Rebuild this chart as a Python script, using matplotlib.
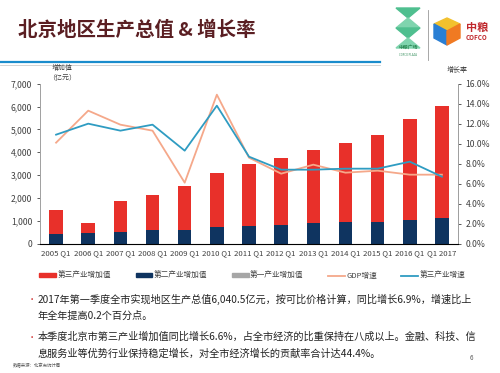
import matplotlib
matplotlib.use("Agg")
import matplotlib.pyplot as plt
import numpy as np
from matplotlib.patches import Polygon, Rectangle
from matplotlib.lines import Line2D

plt.rcParams['font.family'] = ['Noto Sans CJK SC', 'DejaVu Sans']

# data
quarters = ["2005 Q1", "2006 Q1", "2007 Q1", "2008 Q1", "2009 Q1", "2010 Q1", "2011 Q1",
            "2012 Q1", "2013 Q1", "2014 Q1", "2015 Q1", "2016 Q1", "Q1 2017"]
second_ind = [411, 455, 512, 586, 586, 717, 787, 831, 892, 936, 949, 1023, 1111]
third_ind = [1050, 437, 1356, 1558, 1925, 2389, 2713, 2931, 3207, 3482, 3819, 4432, 4930]
gdp_growth = [10.1, 13.3, 11.9, 11.3, 6.1, 14.9, 8.6, 7.0, 7.9, 7.1, 7.3, 6.9, 6.9]
third_growth = [10.9, 12.0, 11.3, 11.9, 9.3, 13.8, 8.7, 7.4, 7.4, 7.5, 7.5, 8.2, 6.7]

RED = "#e8302a"
NAVY = "#0f3460"
GREY = "#a6a6a6"
ORANGE = "#f5a88a"
BLUE = "#2f9cc2"
TXT = "#404040"

fig = plt.figure(figsize=(5, 3.73), dpi=100)

# title and header
fig.text(0.036, 0.918, "北京地区生产总值 & 增长率", fontsize=14, fontweight="bold",
         color="#5a1e22", va="center")
fig.add_artist(Line2D([0, 0.76], [0.834, 0.834], color="#1a8ccc", lw=1.6))
fig.add_artist(Line2D([0, 0.76], [0.826, 0.826], color="#cccccc", lw=0.6))

# logo approximation
W, H = 500.0, 373.0
def px(x, y):
    return (x / W, 1 - y / H)
for y0 in (8, 28):
    fig.add_artist(Polygon([px(396, y0), px(420, y0), px(408, y0 + 10)], closed=True,
                           transform=fig.transFigure, color="#4fbf8f"))
    fig.add_artist(Polygon([px(396, y0 + 20), px(420, y0 + 20), px(408, y0 + 10)], closed=True,
                           transform=fig.transFigure, color="#7fd4ae"))
fig.text(408 / W, 1 - 47 / H, "中粮广场", fontsize=3.5, color="#2e8b57", ha="center", va="center",
         fontweight="bold")
fig.text(408 / W, 1 - 55 / H, "COFCO PLAZA", fontsize=2, color="#2e8b57", ha="center", va="center")
fig.add_artist(Line2D([428 / W, 428 / W], [1 - 10 / H, 1 - 60 / H], color="#999999", lw=0.6))
fig.add_artist(Polygon([px(447, 18), px(460, 24), px(447, 31), px(434, 24)], closed=True,
                       transform=fig.transFigure, color="#f2c12e"))
fig.add_artist(Polygon([px(434, 24), px(447, 31), px(447, 45), px(434, 38)], closed=True,
                       transform=fig.transFigure, color="#2a7fd4"))
fig.add_artist(Polygon([px(447, 31), px(460, 24), px(460, 38), px(447, 45)], closed=True,
                       transform=fig.transFigure, color="#f07a22"))
fig.text(477 / W, 1 - 27 / H, "中粮", fontsize=8, color="#c0282d", ha="center", va="center",
         fontweight="bold")
fig.text(477 / W, 1 - 38 / H, "COFCO", fontsize=4.5, color="#c0282d", ha="center", va="center",
         fontweight="bold")

# main chart
ax = fig.add_axes([0.08, 0.3467, 0.836, 0.429])
x = np.arange(len(quarters))
bw = 0.42
ax.bar(x, second_ind, bw, color=NAVY, zorder=2)
ax.bar(x, third_ind, bw, bottom=second_ind, color=RED, zorder=2)
ax.set_ylim(0, 7000)
ax.set_xlim(-0.5, len(quarters) - 0.5)
ax.set_yticks(range(0, 7001, 1000))
ax.set_yticklabels(["{:,}".format(v) for v in range(0, 7001, 1000)])
ax.set_xticks(x)
ax.set_xticklabels(quarters)
ax.tick_params(labelsize=6.2, colors=TXT, length=2, width=0.6)
ax.tick_params(axis="x", labelsize=5.6, length=0, pad=4)
ax.spines["top"].set_visible(False)
for s in ("left", "bottom", "right"):
    ax.spines[s].set_color("#a0a0a0")
    ax.spines[s].set_linewidth(0.7)

ax2 = ax.twinx()
ax2.plot(x, gdp_growth, color=ORANGE, lw=1.3, zorder=3)
ax2.plot(x, third_growth, color=BLUE, lw=1.3, zorder=3)
ax2.set_ylim(0, 16)
ax2.set_yticks(np.arange(0, 16.1, 2))
ax2.set_yticklabels(["{:.1f}%".format(v) for v in np.arange(0, 16.1, 2)])
ax2.tick_params(labelsize=6.2, colors=TXT, length=2, width=0.6)
ax2.spines["top"].set_visible(False)
ax2.spines["right"].set_color("#a0a0a0")
ax2.spines["right"].set_linewidth(0.7)
ax2.spines["left"].set_visible(False)

fig.text(62 / W, 1 - 73 / H, "增加值\n（亿元）", fontsize=5, color=TXT, ha="center", va="center",
         linespacing=1.2)
fig.text(457 / W, 1 - 70 / H, "增长率", fontsize=5, color=TXT, ha="center", va="center")

# legend
handles = [Rectangle((0, 0), 1, 1, color=RED), Rectangle((0, 0), 1, 1, color=NAVY),
           Rectangle((0, 0), 1, 1, color=GREY), Line2D([], [], color=ORANGE, lw=1.3),
           Line2D([], [], color=BLUE, lw=1.3)]
labels = ["第三产业增加值", "第二产业增加值", "第一产业增加值", "GDP增速", "第三产业增速"]
fig.legend(handles, labels, loc="center", bbox_to_anchor=(0.505, 1 - 276 / H), ncol=5,
           frameon=False, fontsize=5.5, handlelength=2.2, handleheight=0.5,
           columnspacing=3.2, handletextpad=0.2, labelcolor=TXT)

# bullet text
bullets = [
    ("2017年第一季度全市实现地区生产总值6,040.5亿元，按可比价格计算，同比增长6.9%，增速比上", 299),
    ("年全年提高0.2个百分点。", 316),
    ("本季度北京市第三产业增加值同比增长6.6%，占全市经济的比重保持在八成以上。金融、科技、信", 337),
    ("息服务业等优势行业保持稳定增长，对全市经济增长的贡献率合计达44.4%。", 354),
]
for t, yy in bullets:
    fig.text(38 / W, 1 - yy / H, t, fontsize=7.3, color="#222222", va="center")
for yy in (299, 337):
    fig.text(28 / W, 1 - yy / H, "•", fontsize=6, color="#d03030", va="center")

fig.text(13 / W, 1 - 366 / H, "数据来源：北京市统计局", fontsize=3.2, color="#555555", va="center")
fig.text(470 / W, 1 - 358 / H, "6", fontsize=4.5, color="#555555", va="center")

fig.savefig("out.png", dpi=100)
